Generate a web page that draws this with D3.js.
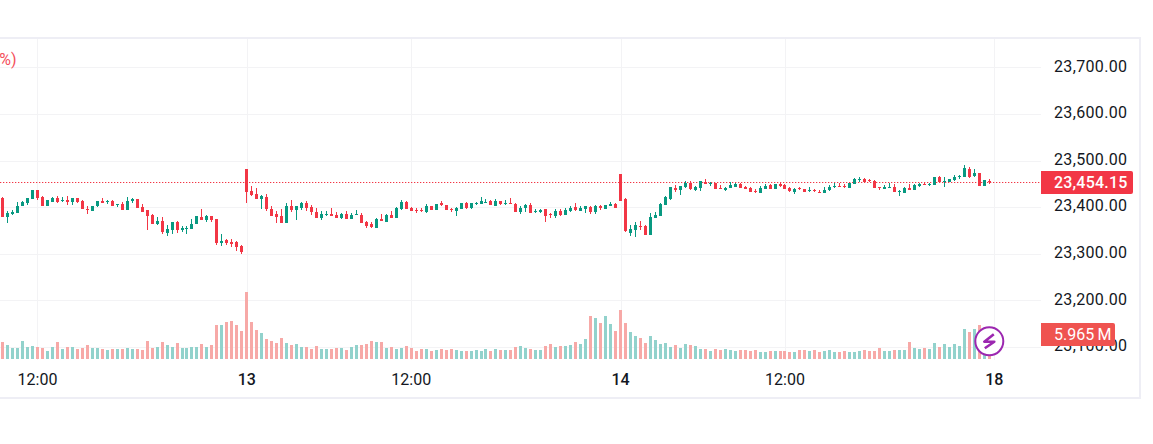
<!DOCTYPE html>
<meta charset="utf-8">
<script src="https://d3js.org/d3.v7.min.js"></script>
<style>
	html, body {
		margin: 0;
		background: #fff;
		overflow: hidden;
	}
	text {
		font-family: Roboto, sans-serif;
		fill: #131722;
	}
</style>
<body>
	<div id="chart"></div>
</body>
<script>
	const priceTicks = [23100, 23200, 23300, 23400, 23500, 23600, 23700];
	const timeTicks = [7, 49, 82, 124, 157, 199];
	const timeLabels = ["12:00", "13", "12:00", "14", "12:00", "18"];
	const lastPrice = 23454.15;
	const lastVolume = 5.965; // millions

	const opens = [
		23419,23379,23385,23387,23402,23409,23417,23437,23421,23402,
		23411,23419,23413,23415,23411,23419,23413,23396,23391,23402,
		23413,23411,23413,23404,23406,23394,23413,23417,23400,23394,
		23383,23364,23370,23344,23351,23368,23351,23353,23353,23364,
		23379,23372,23381,23374,23323,23329,23325,23325,23316,23482,
		23434,23428,23417,23421,23396,23385,23381,23366,23402,23394,
		23398,23409,23400,23389,23376,23383,23385,23383,23376,23385,
		23374,23383,23383,23368,23364,23355,23374,23368,23383,23376,
		23396,23411,23398,23394,23394,23389,23402,23394,23408,23404,
		23396,23391,23396,23409,23398,23406,23406,23409,23413,23402,
		23413,23406,23409,23406,23389,23398,23404,23389,23389,23396,
		23385,23381,23391,23383,23391,23400,23391,23396,23400,23389,
		23402,23396,23402,23406,23471,23417,23344,23351,23359,23359,
		23340,23376,23381,23404,23417,23441,23437,23443,23451,23437,
		23441,23454,23449,23451,23441,23437,23441,23443,23449,23443,
		23441,23434,23430,23439,23447,23439,23449,23447,23441,23432,
		23441,23439,23434,23437,23432,23430,23437,23443,23445,23445,
		23441,23449,23458,23460,23458,23456,23443,23439,23441,23443,
		23432,23430,23441,23437,23445,23449,23447,23447,23464,23454,
		23454,23458,23464,23464,23482,23466,23473,23445,23456
	];
	const highs = [
		23421,23391,23394,23411,23413,23419,23437,23437,23424,23415,
		23421,23424,23421,23424,23419,23419,23415,23402,23402,23413,
		23419,23415,23415,23406,23411,23421,23419,23417,23406,23394,
		23385,23379,23379,23361,23368,23370,23359,23359,23374,23381,
		23396,23383,23381,23374,23342,23331,23331,23327,23319,23482,
		23445,23441,23426,23428,23402,23391,23396,23409,23415,23402,
		23411,23413,23404,23398,23391,23391,23398,23389,23387,23391,
		23387,23394,23387,23370,23368,23376,23385,23385,23391,23400,
		23415,23413,23400,23398,23398,23406,23402,23406,23413,23404,
		23398,23400,23409,23411,23409,23411,23421,23417,23415,23417,
		23413,23415,23419,23409,23402,23406,23409,23396,23396,23396,
		23387,23396,23396,23398,23402,23409,23402,23402,23402,23404,
		23404,23404,23411,23409,23471,23419,23361,23368,23370,23361,
		23387,23389,23409,23424,23443,23447,23445,23456,23456,23445,
		23456,23460,23454,23451,23447,23443,23454,23452,23451,23445,
		23443,23439,23445,23449,23449,23449,23451,23449,23443,23441,
		23443,23439,23443,23439,23437,23443,23447,23451,23451,23449,
		23451,23462,23464,23462,23460,23458,23443,23447,23451,23449,
		23437,23443,23449,23449,23451,23451,23451,23464,23466,23464,
		23460,23469,23469,23490,23486,23482,23473,23458,23460
	];
	const lows = [
		23379,23366,23383,23387,23402,23404,23417,23415,23402,23402,
		23411,23409,23411,23404,23404,23409,23396,23385,23391,23400,
		23409,23406,23402,23400,23394,23394,23409,23398,23389,23351,
		23364,23361,23342,23338,23342,23344,23346,23342,23353,23364,
		23372,23368,23368,23319,23316,23319,23314,23306,23299,23409,
		23424,23417,23396,23391,23381,23366,23366,23366,23389,23372,
		23394,23391,23383,23376,23372,23381,23381,23376,23374,23374,
		23374,23383,23366,23355,23355,23355,23370,23368,23376,23376,
		23394,23396,23391,23387,23389,23387,23394,23394,23402,23394,
		23389,23381,23396,23396,23396,23404,23406,23409,23404,23402,
		23404,23404,23406,23389,23385,23389,23387,23387,23387,23368,
		23376,23376,23381,23383,23389,23391,23391,23387,23385,23385,
		23394,23396,23402,23398,23413,23346,23338,23336,23351,23340,
		23340,23376,23381,23404,23415,23432,23426,23441,23437,23434,
		23434,23449,23445,23439,23439,23434,23441,23443,23441,23439,
		23432,23430,23430,23439,23439,23439,23443,23439,23432,23428,
		23437,23432,23432,23432,23430,23430,23434,23441,23443,23441,
		23441,23449,23454,23451,23454,23441,23437,23439,23441,23432,
		23424,23430,23437,23437,23443,23447,23445,23447,23451,23443,
		23454,23456,23460,23464,23462,23464,23445,23445,23449
	];
	const closes = [
		23379,23387,23389,23402,23411,23419,23437,23419,23402,23415,
		23419,23411,23415,23411,23419,23411,23396,23394,23402,23413,
		23409,23413,23402,23406,23394,23413,23417,23398,23389,23381,
		23364,23370,23346,23353,23368,23351,23355,23355,23364,23381,
		23372,23381,23372,23323,23327,23323,23321,23314,23304,23432,
		23426,23417,23424,23396,23381,23379,23366,23402,23394,23402,
		23409,23398,23389,23376,23385,23385,23381,23376,23385,23374,
		23383,23385,23366,23359,23357,23374,23370,23383,23376,23398,
		23411,23396,23391,23391,23391,23402,23394,23406,23404,23394,
		23394,23398,23409,23398,23409,23409,23413,23411,23404,23413,
		23406,23409,23406,23389,23398,23404,23387,23391,23394,23381,
		23383,23391,23383,23394,23398,23394,23398,23402,23389,23402,
		23398,23404,23406,23398,23413,23349,23353,23361,23357,23340,
		23379,23383,23406,23421,23443,23437,23445,23451,23439,23443,
		23456,23449,23451,23439,23439,23441,23447,23450,23441,23439,
		23432,23433,23441,23445,23439,23449,23445,23439,23434,23439,
		23439,23432,23437,23434,23430,23437,23443,23445,23443,23443,
		23451,23460,23460,23454,23456,23441,23441,23443,23443,23432,
		23434,23441,23437,23447,23449,23447,23449,23464,23454,23456,
		23460,23464,23466,23484,23464,23473,23445,23458,23454.15
	];
	// volume in millions
	const volumes = [
		4.06,3.34,2.62,2.62,4.29,2.86,3.10,2.86,2.62,1.91,
		2.86,4.06,2.39,2.86,2.86,2.39,2.62,3.34,2.62,2.62,
		2.39,2.15,2.39,2.39,2.39,2.62,2.39,2.39,2.15,4.29,
		2.62,2.86,4.06,3.34,2.86,3.82,2.62,2.62,2.86,2.86,
		3.58,2.86,3.34,8.11,8.11,8.83,9.07,8.11,6.68,15.99,
		8.83,6.92,6.20,4.77,4.29,3.82,5.01,3.82,3.34,3.58,
		2.86,2.86,2.39,3.10,2.39,2.39,2.39,2.62,2.62,2.15,
		2.86,3.34,3.34,3.58,4.29,4.06,4.06,2.62,2.86,2.39,
		2.62,3.10,2.62,1.91,2.39,2.39,1.91,2.15,2.39,2.15,
		2.39,2.15,1.91,1.91,1.91,2.15,1.91,2.39,1.91,2.39,
		2.15,2.15,2.15,2.86,3.10,2.62,2.39,2.15,2.15,3.10,
		3.58,2.86,3.10,3.10,3.34,4.06,3.58,4.77,10.26,9.78,
		8.59,10.26,8.35,6.68,11.69,8.59,6.44,5.49,5.01,3.82,
		5.49,4.53,3.58,3.82,2.86,3.34,2.62,3.58,3.34,3.10,
		2.39,2.39,1.91,2.39,2.15,2.39,2.15,1.91,2.15,2.15,
		1.91,2.15,1.67,1.67,1.91,1.91,1.91,1.91,1.67,1.67,
		2.15,2.15,1.91,2.15,1.67,1.91,2.15,1.67,1.67,1.91,
		1.67,1.67,1.91,2.15,1.91,1.91,2.62,1.91,1.91,2.15,
		2.15,2.15,4.06,2.62,2.39,2.62,2.39,3.82,2.86,3.58,
		2.86,3.58,3.10,7.16,6.44,7.16,8.11,2.86,5.965
	];

	const width = 1153, height = 444;
	const paneLeft = 0, paneRight = 1041, axisRight = 1140, paneTop = 38, paneBottom = 398;
	const up = "#089981", down = "#f23645";
	const volUp = "#92d2cc", volDown = "#f7a9a7";
	const gridColor = "#f3f3f5", borderColor = "#eeeef5";

	const x = d3.scaleLinear().domain([0, 199]).range([2.6, 994.3]);
	const y = d3.scaleLinear().domain([23100, 23700]).range([347, 67.3]);
	const yVol = d3.scaleLinear().domain([0, 16]).range([359, 291.94]);

	const svg = d3.select("#chart").append("svg")
		.attr("width", width)
		.attr("height", height)
		.style("display", "block");

	// Grid lines
	const grid = svg.append("g").attr("class", "grid");

	grid.append("g")
		.attr("transform", `translate(${paneRight},0)`)
		.call(d3.axisLeft(y).tickValues(priceTicks).tickSize(paneRight - paneLeft).tickFormat(""))
		.call(g => g.select(".domain").remove());

	grid.append("g")
		.attr("transform", `translate(0,360)`)
		.call(d3.axisBottom(x).tickValues(timeTicks).tickSize(-(360 - paneTop)).tickFormat(""))
		.call(g => g.select(".domain").remove());

	grid.selectAll("line")
		.attr("stroke", gridColor)
		.attr("shape-rendering", "crispEdges");

	// Pane border
	svg.append("path")
		.attr("d", `M0,${paneTop}H${axisRight}V${paneBottom}H0`)
		.attr("fill", "none")
		.attr("stroke", borderColor)
		.attr("stroke-width", 2);

	const index = d3.range(closes.length);
	const isDown = i => closes[i] < opens[i];
	const px = i => Math.floor(x(i));

	// Volume bars
	svg.append("g").selectAll("rect")
		.data(index)
		.enter().append("rect")
		.attr("x", i => px(i) - 1)
		.attr("width", 3)
		.attr("y", i => Math.round(yVol(volumes[i])))
		.attr("height", i => yVol(0) - Math.round(yVol(volumes[i])))
		.attr("fill", i => isDown(i) ? volDown : volUp);

	// Last price line
	svg.append("line")
		.attr("x1", 0)
		.attr("x2", paneRight)
		.attr("y1", Math.round(y(lastPrice)) + 0.5)
		.attr("y2", Math.round(y(lastPrice)) + 0.5)
		.attr("stroke", down)
		.attr("stroke-width", 1.2)
		.attr("stroke-dasharray", "1.3 1.7");

	// Candles
	const candles = svg.append("g").selectAll("g")
		.data(index)
		.enter().append("g")
		.attr("fill", i => isDown(i) ? down : up);

	candles.append("rect")
		.attr("x", px)
		.attr("width", 1)
		.attr("y", i => Math.round(y(highs[i])))
		.attr("height", i => Math.round(y(lows[i])) - Math.round(y(highs[i])));

	candles.append("rect")
		.attr("x", i => px(i) - 1)
		.attr("width", 3)
		.attr("y", i => Math.round(y(Math.max(opens[i], closes[i]))))
		.attr("height", i => Math.max(1, Math.round(y(Math.min(opens[i], closes[i]))) - Math.round(y(Math.max(opens[i], closes[i])))));

	// Price axis
	svg.append("g")
		.attr("transform", "translate(1054,0)")
		.call(d3.axisRight(y).tickValues(priceTicks).tickSize(0).tickPadding(0).tickFormat(d3.format(",.2f")))
		.call(g => g.select(".domain").remove())
		.call(g => g.selectAll("text")
			.style("font-size", "16px")
			.style("letter-spacing", "0.35px")
			.attr("dy", "0.24em"));

	// Time axis
	svg.append("g")
		.attr("transform", "translate(-0.5,374)")
		.call(d3.axisBottom(x).tickValues(timeTicks).tickSize(0).tickPadding(0)
			.tickFormat((d, i) => timeLabels[i]))
		.call(g => g.select(".domain").remove())
		.call(g => g.selectAll("text")
			.style("font-size", "16px")
			.style("font-weight", d => d === 7 || d === 82 || d === 157 ? 400 : 500));

	// Cut-off legend text at the left edge
	svg.append("text")
		.attr("x", 16.5)
		.attr("y", 65)
		.attr("text-anchor", "end")
		.style("fill", "#f4505c")
		.style("font-size", "16px")
		.text("%)");

	// Last price tag
	const priceTag = svg.append("g");
	priceTag.append("path")
		.attr("d", "M1041,171H1131a2,2 0 0 1 2,2V192a2,2 0 0 1 -2,2H1041Z")
		.attr("fill", down);
	priceTag.append("text")
		.attr("x", 1054)
		.attr("y", y(lastPrice) + 6)
		.style("fill", "#fff")
		.style("font-size", "16px")
		.style("font-weight", 500)
		.style("letter-spacing", "0.2px")
		.text(d3.format(",.2f")(lastPrice));

	// Volume tag
	const volTag = svg.append("g");
	volTag.append("path")
		.attr("d", "M1041,323H1113a2,2 0 0 1 2,2V344a2,2 0 0 1 -2,2H1041Z")
		.attr("fill", "#ef5350");
	volTag.append("text")
		.attr("x", 1054)
		.attr("y", 340)
		.style("fill", "#fff")
		.style("font-size", "16px")
		.text(d3.format(".3f")(lastVolume) + "\u2009M");

	// Lightning badge
	const badge = svg.append("g").attr("transform", "translate(989.3,341.3)");
	badge.append("circle")
		.attr("r", 14)
		.attr("fill", "#fff")
		.attr("stroke", "#9c27b0")
		.attr("stroke-width", 2);
	badge.append("path")
		.attr("d", "M4.5,-7L-5,0.5H5L-4.5,7")
		.attr("fill", "none")
		.attr("stroke", "#9c27b0")
		.attr("stroke-width", 2.6)
		.attr("stroke-linejoin", "round");
</script>
